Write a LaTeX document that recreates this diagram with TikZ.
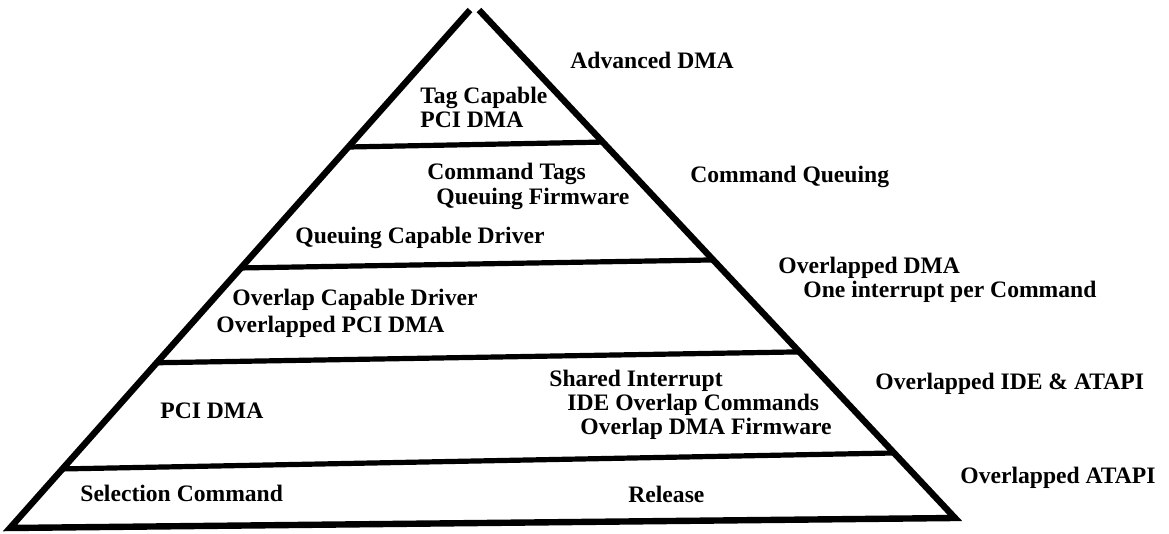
\documentclass[tikz,border=0pt]{standalone}
\usepackage{fontspec}
\setmainfont{Liberation Serif}
\usetikzlibrary{calc}
\begin{document}
\begin{tikzpicture}[x=0.5pt,y=-0.5pt,
  edge/.style={line width=3.2pt,line join=miter,line cap=butt},
  divider/.style={line width=2.6pt},
  lbl/.style={anchor=west,inner sep=0pt,text height=0.66em,text depth=0pt,
    font=\fontsize{11.8}{14}\selectfont\bfseries}]
\useasboundingbox (0,0) rectangle (1169,534);
% pyramid outline
\coordinate (L0) at (470,10);
\coordinate (Lb) at (10,528);
\coordinate (R0) at (479,10);
\coordinate (Rb) at (955,518);
\draw[edge] (L0) -- (Lb) -- (Rb) -- (R0);
% dividers
\coordinate (d1l) at ($(L0)!0.2645!(Lb)$);
\coordinate (d1r) at ($(R0)!0.260!(Rb)$);
\coordinate (d2l) at ($(L0)!0.498!(Lb)$);
\coordinate (d2r) at ($(R0)!0.492!(Rb)$);
\coordinate (d3l) at ($(L0)!0.681!(Lb)$);
\coordinate (d3r) at ($(R0)!0.673!(Rb)$);
\coordinate (d4l) at ($(L0)!0.886!(Lb)$);
\coordinate (d4r) at ($(R0)!0.872!(Rb)$);
\draw[divider] (d1l) -- (d1r);
\draw[divider] (d2l) -- (d2r);
\draw[divider] (d3l) -- (d3r);
\draw[divider] (d4l) -- (d4r);
% labels inside
\node[lbl] (tag1) at (420,97) {Tag Capable};
\node[lbl] (tag2) at (420,121) {PCI DMA};
\node[lbl] (ct) at (427,173) {Command Tags};
\node[lbl] (qf) at (436,198) {Queuing Firmware};
\node[lbl] (qcd) at (295,237) {Queuing Capable Driver};
\node[lbl] (ocd) at (232,299) {Overlap Capable Driver};
\node[lbl] (opd) at (216,326) {Overlapped PCI DMA};
\node[lbl] (si) at (549,380) {Shared Interrupt};
\node[lbl] (ioc) at (567,404) {IDE Overlap Commands};
\node[lbl] (odf) at (580,428) {Overlap DMA Firmware};
\node[lbl] (pci) at (160,412) {PCI DMA};
\node[lbl] (sel) at (80,495) {Selection Command};
\node[lbl] (rel) at (628,496) {Release};
% labels outside
\node[lbl] (adv) at (570,62) {Advanced DMA};
\node[lbl] (cq) at (690,176) {Command Queuing};
\node[lbl] (odma) at (778,267) {Overlapped DMA};
\node[lbl] (oipc) at (803,291) {One interrupt per Command};
\node[lbl] (oia) at (875,383) {Overlapped IDE \& ATAPI};
\node[lbl] (oa) at (960,477) {Overlapped ATAPI};
\end{tikzpicture}
\end{document}
